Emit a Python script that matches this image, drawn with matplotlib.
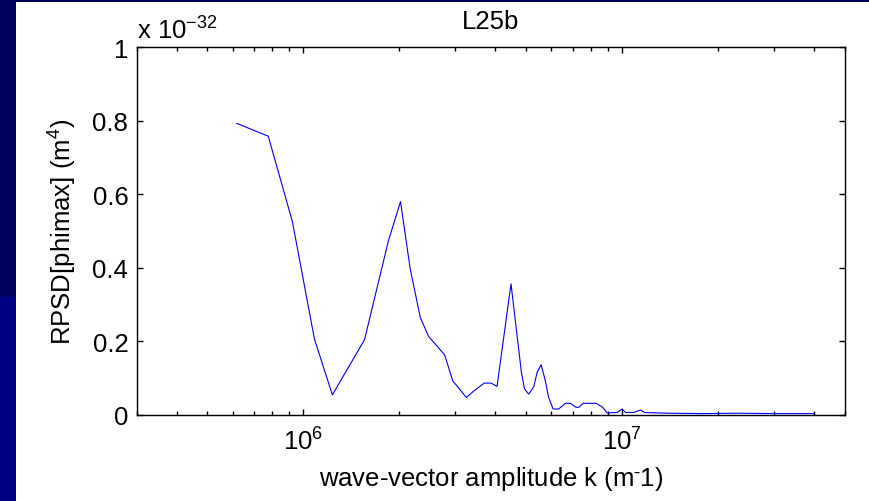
import matplotlib
matplotlib.use("Agg")
import matplotlib.pyplot as plt
from matplotlib.patches import Rectangle
from matplotlib.ticker import LogLocator, NullFormatter, FixedLocator

plt.rcParams['font.family'] = ['Liberation Sans', 'DejaVu Sans']
plt.rcParams['mathtext.fontset'] = 'custom'
plt.rcParams['mathtext.rm'] = 'Liberation Sans'
plt.rcParams['mathtext.it'] = 'Liberation Sans'
plt.rcParams['mathtext.bf'] = 'Liberation Sans'

# wave-vector amplitude k (1/m)
k = [6.18e5, 7.76e5, 9.24e5, 1.083e6, 1.233e6, 1.555e6, 1.849e6, 2.017e6,
     2.163e6, 2.326e6, 2.47e6, 2.773e6, 2.94e6, 3.244e6, 3.42e6, 3.69e6,
     3.88e6, 4.05e6, 4.48e6, 4.83e6, 4.94e6, 5.09e6, 5.28e6, 5.41e6, 5.57e6,
     5.74e6, 5.88e6, 6.07e6, 6.32e6, 6.64e6, 6.88e6, 7.17e6, 7.31e6, 7.54e6,
     8.29e6, 8.69e6, 8.97e6, 9.64e6, 1.0e7, 1.024e7, 1.088e7, 1.142e7,
     1.175e7, 1.4e7, 1.8e7, 2.3e7, 3.0e7, 3.5e7, 4.0e7]
# RPSD values in units of 1e-32 m^4
rpsd = [0.793, 0.758, 0.525, 0.206, 0.054, 0.204, 0.474, 0.580,
        0.397, 0.265, 0.213, 0.163, 0.0925, 0.047, 0.064, 0.086,
        0.086, 0.077, 0.356, 0.115, 0.070, 0.056, 0.076, 0.115, 0.136,
        0.0925, 0.047, 0.0155, 0.0155, 0.031, 0.031, 0.020, 0.020, 0.031,
        0.031, 0.020, 0.005, 0.006, 0.0155, 0.006, 0.006, 0.013,
        0.006, 0.004, 0.003, 0.004, 0.003, 0.003, 0.003]

yticks = [0, 0.2, 0.4, 0.6, 0.8, 1]
ytick_labels = ['0', '0.2', '0.4', '0.6', '0.8', '1']

FS = 18.5

fig = plt.figure(figsize=(8.7, 5.02), dpi=100, facecolor='white')

# slide background pieces
fig.patches.append(Rectangle((0, 1 - 3.3 / 502), 1, 3.3 / 502, transform=fig.transFigure,
                             facecolor='#00005e', edgecolor='none', zorder=0))
fig.patches.append(Rectangle((0, 1 - 297.7 / 502), 16 / 870, 297.7 / 502, transform=fig.transFigure,
                             facecolor='#00005e', edgecolor='none', zorder=0))
fig.patches.append(Rectangle((0, 0), 16 / 870, 1 - 297.7 / 502, transform=fig.transFigure,
                             facecolor='#000080', edgecolor='none', zorder=0))

ax = fig.add_axes([136.7 / 870, 1 - 415.7 / 502, (845 - 136.7) / 870, (415.7 - 48.3) / 502])
ax.plot(k, rpsd, color='#0000ff', lw=0.8)
ax.set_xscale('log')
ax.set_xlim(3e5, 5e7)
ax.set_ylim(0, 1)
ax.set_yticks(yticks)
ax.set_yticklabels(ytick_labels)
ax.xaxis.set_major_locator(FixedLocator([1e6, 1e7]))
ax.xaxis.set_minor_locator(LogLocator(base=10, subs=range(2, 10), numticks=20))
ax.xaxis.set_minor_formatter(NullFormatter())
ax.set_xticklabels([r'$\mathregular{10^{6}}$', r'$\mathregular{10^{7}}$'])

ax.tick_params(which='both', direction='in', top=True, right=True, colors='black',
               labelsize=FS, width=1)
ax.tick_params(which='major', length=4)
ax.tick_params(axis='y', which='major', pad=6)
ax.tick_params(axis='x', which='major', pad=9)
ax.tick_params(which='minor', length=3)
for s in ax.spines.values():
    s.set_linewidth(1)

ax.set_title('L25b', fontsize=FS, pad=14)
ax.set_xlabel(r'wave-vector amplitude k (m$\mathregular{^{\bar{\ }}}$1)', fontsize=FS, labelpad=7)
ax.set_ylabel(r'RPSD[phimax] (m$\mathregular{^{4}}$)', fontsize=FS, labelpad=10)
ax.text(0.0, 1.01, r'x $\mathregular{10^{-32}}$', transform=ax.transAxes, fontsize=FS,
        ha='left', va='bottom')

fig.savefig('out.png', dpi=100, facecolor='white')
